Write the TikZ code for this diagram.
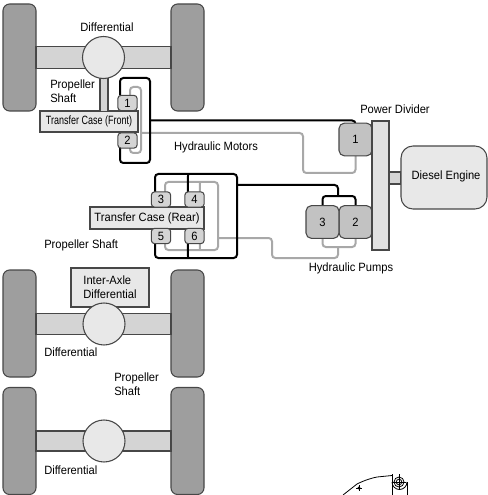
\documentclass[tikz,border=0pt]{standalone}
\usepackage{fontspec}
\usetikzlibrary{backgrounds}
\setmainfont[FakeStretch=0.93]{Liberation Sans}
\newfontfamily\narrowfont[FakeStretch=0.75]{Liberation Sans}
\definecolor{edgegray}{gray}{0.28}
\definecolor{wheelgray}{gray}{0.62}
\definecolor{axlegray}{gray}{0.83}
\definecolor{casegray}{gray}{0.91}
\definecolor{pumpgray}{gray}{0.76}
\definecolor{hosegray}{gray}{0.66}
\tikzset{
  part/.style={draw=edgegray, line width=0.8pt, inner sep=0pt, outer sep=0pt},
  wheel/.style={part, fill=wheelgray, rounded corners=5pt, minimum width=24.75pt, minimum height=80.25pt},
  axle/.style={part, fill=axlegray, minimum width=101.25pt, minimum height=16pt},
  diff/.style={part, fill=casegray, circle, minimum size=31.5pt},
  casebox/.style={part, fill=casegray, font=\fontsize{9}{10}\selectfont},
  portbox/.style={part, fill=pumpgray!70!white, rounded corners=2.5pt, minimum width=14.5pt, minimum height=11.5pt, font=\fontsize{9}{10}\selectfont},
  pumpbox/.style={part, fill=pumpgray, rounded corners=4pt, minimum width=24.75pt, minimum height=24.5pt, font=\fontsize{9}{10}\selectfont},
  tag/.style={font=\fontsize{9}{10.2}\selectfont, inner sep=0pt, align=left},
  hoseblack/.style={draw=black, line width=1.5pt, rounded corners=2.5pt},
  hosegrey/.style={draw=hosegray, line width=1.5pt, rounded corners=2.5pt},
}
\begin{document}
\begin{tikzpicture}[x=0.75pt, y=-0.75pt]
  \useasboundingbox (0,0) rectangle (487,495);

  % -- Transfer cases and their ports --
  \node[casebox, minimum width=73.5pt, minimum height=15.75pt, font=\fontsize{9}{10}\narrowfont] (caseFront) at (89,121.5) {Transfer Case (Front)};
  \node[portbox] (motorA) at (127.5,103) {1};
  \node[portbox] (motorB) at (127.5,140.5) {2};
  \node[casebox, minimum width=85.5pt, minimum height=16.5pt] (caseRear) at (147,218) {Transfer Case (Rear)};
  \node[portbox] (motorC) at (161,199.5) {3};
  \node[portbox] (motorD) at (194.5,199.5) {4};
  \node[portbox] (motorE) at (161,236) {5};
  \node[portbox] (motorF) at (194.5,236) {6};

  % -- Pumps --
  \node[pumpbox] (pumpA) at (355.5,139.5) {1};
  \node[pumpbox] (pumpB) at (355.5,222) {2};
  \node[pumpbox] (pumpC) at (322.5,222) {3};

  % Hose corners
  \coordinate (frontTL) at (120,78);
  \coordinate (frontTR) at (150,78);
  \coordinate (frontBR) at (150,163);
  \coordinate (frontBL) at (120,163);
  \coordinate (frontOut) at (150,120.5);
  \coordinate (greyFrontTL) at (130,87);
  \coordinate (greyFrontTR) at (141,87);
  \coordinate (greyFrontBR) at (141,153);
  \coordinate (greyFrontBL) at (130,153);
  \coordinate (greyFrontOut) at (141,133);
  \coordinate (rearTL) at (155,174);
  \coordinate (rearTM) at (188,174);
  \coordinate (rearTR) at (237,174);
  \coordinate (rearBR) at (237,258);
  \coordinate (rearBM) at (188,258);
  \coordinate (rearBL) at (155,258);
  \coordinate (rearOut) at (237,185);
  \coordinate (greyRearTL) at (165,182);
  \coordinate (greyRearTM) at (200,182);
  \coordinate (greyRearTR) at (218,182);
  \coordinate (greyRearBR) at (218,250);
  \coordinate (greyRearBM) at (200,250);
  \coordinate (greyRearBL) at (165,250);
  \coordinate (greyRearOut) at (218,238);
  \coordinate (pumpJoin) at (338,196);
  \coordinate (greyJoin) at (338,247);

  \begin{pgfonlayer}{background}
    % -- Grey hoses --
    \draw[hosegrey] ([xshift=1.9pt]motorA.north) -- (greyFrontTL) -- (greyFrontTR) -- (greyFrontBR) -- (greyFrontBL) -- ([xshift=1.9pt]motorB.south);
    \draw[hosegrey] (greyFrontOut) -- (303,133) -- (303,173) -| (pumpA.south);
    \draw[hosegrey] ([xshift=3pt]motorC.north) -- (greyRearTL) -- (greyRearTR) -- (greyRearBR) -- (greyRearBL) -- ([xshift=3pt]motorE.south);
    \draw[hosegrey] ([xshift=4.1pt]motorD.north) -- (greyRearTM);
    \draw[hosegrey] ([xshift=4.1pt]motorF.south) -- (greyRearBM);
    \draw[hosegrey] (greyRearOut) -- (272,238) -- (272,258) -| (greyJoin);
    \draw[hosegrey] (pumpC.south) |- (greyJoin) -| (pumpB.south);

    % -- Black hoses --
    \draw[hoseblack] ([xshift=-5.6pt]motorA.north) -- (frontTL) -- (frontTR) -- (frontBR) -- (frontBL) -- ([xshift=-5.6pt]motorB.south);
    \draw[hoseblack] (frontOut) -| (pumpA.north);
    \draw[hoseblack] ([xshift=-4.5pt]motorC.north) -- (rearTL) -- (rearTR) -- (rearBR) -- (rearBL) -- ([xshift=-4.5pt]motorE.south);
    \draw[hoseblack] ([xshift=-4.9pt]motorD.north) -- (rearTM);
    \draw[hoseblack] ([xshift=-4.9pt]motorF.south) -- (rearBM);
    \draw[hoseblack] (rearOut) -| (pumpJoin);
    \draw[hoseblack] (pumpC.north) |- (pumpJoin) -| (pumpB.north);
  \end{pgfonlayer}

  % -- Front axle --
  \node[wheel] (wheelFL) at (19.5,57.5) {};
  \node[wheel] (wheelFR) at (187.5,57.5) {};
  \node[axle] (axleF) at (103.5,57.5) {};
  \node[part, fill=axlegray, minimum width=6pt, minimum height=25pt] (shaftF) at (104,94.5) {};
  \node[diff] (diffF) at (103.5,57.5) {};

  % -- Middle axle --
  \node[wheel] (wheelML) at (19.5,323.5) {};
  \node[wheel] (wheelMR) at (187.5,323.5) {};
  \node[casebox, minimum width=58.5pt, minimum height=29.25pt] (interAxle) at (110,287.5) {};
  \node[axle] (axleM) at (103.5,324) {};
  \node[diff] (diffM) at (104,324) {};
  \node[tag] at (interAxle) {Inter-Axle\\Differential};

  % -- Rear axle --
  \node[wheel] (wheelRL) at (19.5,441) {};
  \node[wheel] (wheelRR) at (187.5,441) {};
  \node[axle, minimum height=15pt] (axleR) at (103.5,441) {};
  \node[diff] (diffR) at (104,441) {};

  % -- Power train --
  \node[part, fill=axlegray, minimum width=9pt, minimum height=9pt] (shaftE) at (395,178) {};
  \node[part, fill=axlegray!70!white, minimum width=12.75pt, minimum height=96.75pt] (divider) at (380.5,185.5) {};
  \node[part, fill=casegray, rounded corners=9pt, minimum width=64.5pt, minimum height=47.25pt] (engine) at (444,177.5) {};

  % Labels
  \node[tag] (lblDiffF) at (107,27) {Differential};
  \node[tag, anchor=west] (lblShaftF) at (50,91.5) {Propeller\\Shaft};
  \node[tag] (lblMotors) at (216,147) {Hydraulic Motors};
  \node[tag] (lblDivider) at (395,109) {Power Divider};
  \node[tag] (lblEngine) at (446,176) {Diesel Engine};
  \node[tag] (lblPumps) at (351,268) {Hydraulic Pumps};
  \node[tag, anchor=west] (lblShaftR) at (44,245) {Propeller Shaft};
  \node[tag, anchor=west] (lblDiffM) at (44,352) {Differential};
  \node[tag, anchor=west] (lblShaftM) at (114,384) {Propeller\\Shaft};
  \node[tag, anchor=west] (lblDiffR) at (44,470) {Differential};

  % -- Stray fragment, lower right --
  \begin{scope}[line width=0.6pt]
    \clip (330,430) rectangle (487,495);
    \draw (343,495) -- (357,484) .. controls (365,480) and (372,478) .. (377,477) -- (392,475.5);
    \draw (392,482) -- (392,497) (407,482) -- (407,497);
    \draw (392,482) arc[start angle=180, end angle=0, radius=7.5];
    \draw (399,482) circle[radius=5] (399,482) circle[radius=2.8];
    \draw (392,474) -- (392,490) (399,474) -- (399,490) (392,482) -- (406,482);
    \fill (359,488) circle[radius=1.6];
    \draw (356,488) -- (362,488) (359,485) -- (359,491);
  \end{scope}
\end{tikzpicture}
\end{document}
